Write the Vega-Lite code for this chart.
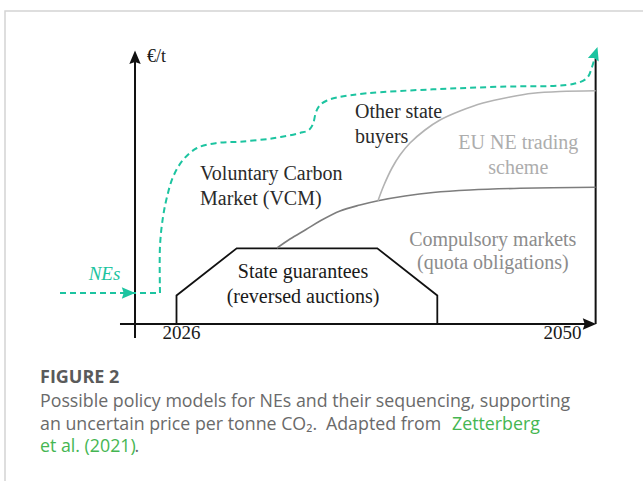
{
  "$schema": "https://vega.github.io/schema/vega-lite/v6.json",
  "width": 643,
  "height": 481,
  "autosize": "none",
  "padding": 0,
  "background": "white",
  "config": {"view": {"stroke": null}},
  "resolve": {"scale": {"color": "independent"}},
  "datasets": {
    "poly": [
      {"g": "frame", "o": 1, "yr": 2016.2, "p": -53},
      {"g": "frame", "o": 2, "yr": 2016.2, "p": 104.33},
      {"g": "frame", "o": 3, "yr": 2053, "p": 104.33},
      {"g": "yaxis", "o": 1, "yr": 2023.629, "p": -4.67},
      {"g": "yaxis", "o": 2, "yr": 2023.629, "p": 88},
      {"g": "xaxis", "o": 1, "yr": 2022.771, "p": 0},
      {"g": "xaxis", "o": 2, "yr": 2049.6, "p": 0},
      {"g": "rline", "o": 1, "yr": 2049.95, "p": 0},
      {"g": "rline", "o": 2, "yr": 2049.95, "p": 88.5},
      {"g": "trap", "o": 1, "yr": 2026, "p": 0},
      {"g": "trap", "o": 2, "yr": 2026, "p": 9.5},
      {"g": "trap", "o": 3, "yr": 2029.44, "p": 25.23},
      {"g": "trap", "o": 4, "yr": 2037.474, "p": 25.23},
      {"g": "trap", "o": 5, "yr": 2040.903, "p": 9.5},
      {"g": "trap", "o": 6, "yr": 2040.903, "p": 0},
      {"g": "nes", "o": 1, "yr": 2019.343, "p": 10.33},
      {"g": "nes", "o": 2, "yr": 2025.057, "p": 10.33}
    ],
    "curves": [
      {"g": "teal", "o": 1, "yr": 2025.057, "p": 10.33},
      {"g": "teal", "o": 2, "yr": 2025.057, "p": 26},
      {"g": "teal", "o": 3, "yr": 2025.229, "p": 35.67},
      {"g": "teal", "o": 4, "yr": 2025.457, "p": 42.33},
      {"g": "teal", "o": 5, "yr": 2025.8, "p": 49},
      {"g": "teal", "o": 6, "yr": 2026.371, "p": 54.67},
      {"g": "teal", "o": 7, "yr": 2027.171, "p": 58.67},
      {"g": "teal", "o": 8, "yr": 2028.314, "p": 60.33},
      {"g": "teal", "o": 9, "yr": 2029.629, "p": 60.77},
      {"g": "teal", "o": 10, "yr": 2031.514, "p": 61.9},
      {"g": "teal", "o": 11, "yr": 2033.057, "p": 63.67},
      {"g": "teal", "o": 12, "yr": 2033.571, "p": 64.67},
      {"g": "teal", "o": 13, "yr": 2033.8, "p": 66.67},
      {"g": "teal", "o": 14, "yr": 2033.971, "p": 70.67},
      {"g": "teal", "o": 15, "yr": 2034.2, "p": 73},
      {"g": "teal", "o": 16, "yr": 2034.6, "p": 74.5},
      {"g": "teal", "o": 17, "yr": 2035.171, "p": 75.5},
      {"g": "teal", "o": 18, "yr": 2036.886, "p": 76.9},
      {"g": "teal", "o": 19, "yr": 2040.657, "p": 78.23},
      {"g": "teal", "o": 20, "yr": 2044.486, "p": 79.1},
      {"g": "teal", "o": 21, "yr": 2048.657, "p": 80},
      {"g": "teal", "o": 22, "yr": 2049.457, "p": 82},
      {"g": "teal", "o": 23, "yr": 2049.743, "p": 85.67},
      {"g": "teal", "o": 24, "yr": 2049.88, "p": 88.3},
      {"g": "c1", "o": 1, "yr": 2031.743, "p": 25.33},
      {"g": "c1", "o": 2, "yr": 2032.486, "p": 28.33},
      {"g": "c1", "o": 3, "yr": 2033.4, "p": 31.5},
      {"g": "c1", "o": 4, "yr": 2034.2, "p": 34.33},
      {"g": "c1", "o": 5, "yr": 2035.343, "p": 37.67},
      {"g": "c1", "o": 6, "yr": 2036.486, "p": 39.67},
      {"g": "c1", "o": 7, "yr": 2037.514, "p": 41.1},
      {"g": "c1", "o": 8, "yr": 2039.057, "p": 42.67},
      {"g": "c1", "o": 9, "yr": 2040.657, "p": 43.83},
      {"g": "c1", "o": 10, "yr": 2042.771, "p": 44.67},
      {"g": "c1", "o": 11, "yr": 2045.629, "p": 45.23},
      {"g": "c1", "o": 12, "yr": 2049.95, "p": 45.57},
      {"g": "c2", "o": 1, "yr": 2037.514, "p": 41.1},
      {"g": "c2", "o": 2, "yr": 2037.857, "p": 46.33},
      {"g": "c2", "o": 3, "yr": 2038.314, "p": 52},
      {"g": "c2", "o": 4, "yr": 2038.771, "p": 56.33},
      {"g": "c2", "o": 5, "yr": 2039.343, "p": 60.33},
      {"g": "c2", "o": 6, "yr": 2040.2, "p": 64.67},
      {"g": "c2", "o": 7, "yr": 2041.057, "p": 68},
      {"g": "c2", "o": 8, "yr": 2042.2, "p": 71},
      {"g": "c2", "o": 9, "yr": 2043.514, "p": 73.67},
      {"g": "c2", "o": 10, "yr": 2045.057, "p": 75.67},
      {"g": "c2", "o": 11, "yr": 2046.371, "p": 76.9},
      {"g": "c2", "o": 12, "yr": 2047.914, "p": 77.5},
      {"g": "c2", "o": 13, "yr": 2049.95, "p": 77.77}
    ],
    "heads": [
      {"g": "black", "yr": 2023.629, "p": 88.93, "a": 0},
      {"g": "black", "yr": 2049.6, "p": 0, "a": 90},
      {"g": "teal", "yr": 2023.257, "p": 10.33, "a": 90},
      {"g": "teal", "yr": 2049.937, "p": 90.23, "a": 18}
    ],
    "labels": [
      {"t": "€/t", "yr": 2024.314, "p": 89, "k": "eur"},
      {"t": "NEs", "yr": 2021.886, "p": 16.67, "k": "nes"},
      {"t": "Other state", "yr": 2036.2, "p": 70.77, "k": "darkL"},
      {"t": "buyers", "yr": 2036.2, "p": 62.23, "k": "darkL"},
      {"t": "Voluntary Carbon", "yr": 2027.343, "p": 50, "k": "darkL"},
      {"t": "Market (VCM)", "yr": 2027.343, "p": 41.57, "k": "darkL"},
      {"t": "EU NE trading", "yr": 2045.531, "p": 60.23, "k": "light"},
      {"t": "scheme", "yr": 2045.531, "p": 51.9, "k": "light"},
      {"t": "Compulsory markets", "yr": 2044.074, "p": 28, "k": "mid"},
      {"t": "(quota obligations)", "yr": 2044.074, "p": 20.23, "k": "mid"},
      {"t": "State guarantees", "yr": 2033.229, "p": 17.43, "k": "darkC"},
      {"t": "(reversed auctions)", "yr": 2033.229, "p": 9.1, "k": "darkC"},
      {"t": "2026", "yr": 2026.286, "p": -3, "k": "year"},
      {"t": "2050", "yr": 2048.057, "p": -3.1, "k": "year"}
    ],
    "caption": [
      {"t": "FIGURE 2", "yr": 2018.2, "p": -18, "k": "head"},
      {"t": "Possible policy models for NEs and their sequencing, supporting", "yr": 2018.2, "p": -26, "k": "body"},
      {"t": "an uncertain price per tonne CO₂.", "yr": 2018.2, "p": -33.67, "k": "body"},
      {"t": "Adapted from", "yr": 2034.543, "p": -33.67, "k": "body"},
      {"t": "Zetterberg", "yr": 2041.743, "p": -33.67, "k": "link"},
      {"t": "et al. (2021)", "yr": 2018.2, "p": -41, "k": "link"},
      {"t": ".", "yr": 2023.6, "p": -41, "k": "body"}
    ]
  },
  "encoding": {
    "x": {"field": "yr", "type": "quantitative", "scale": {"domain": [2016, 2052], "range": [1.5, 631.5], "zero": false, "nice": false}, "axis": null},
    "y": {"field": "p", "type": "quantitative", "scale": {"domain": [0, 100], "range": [324, 24], "zero": false, "nice": false}, "axis": null}
  },
  "layer": [
    {
      "data": {"name": "poly"},
      "transform": [{"filter": "datum.g === 'frame'"}],
      "mark": {"type": "line", "color": "#d4d4d4", "strokeWidth": 1.5},
      "encoding": {"order": {"field": "o", "type": "quantitative"}}
    },
    {
      "data": {"name": "poly"},
      "transform": [{"filter": "datum.g === 'yaxis' || datum.g === 'xaxis' || datum.g === 'rline'"}],
      "mark": {"type": "line", "color": "#111111", "strokeWidth": 2},
      "encoding": {"detail": {"field": "g"}, "order": {"field": "o", "type": "quantitative"}}
    },
    {
      "data": {"name": "poly"},
      "transform": [{"filter": "datum.g === 'trap'"}],
      "mark": {"type": "line", "color": "#111111", "strokeWidth": 1.8, "strokeJoin": "miter"},
      "encoding": {"order": {"field": "o", "type": "quantitative"}}
    },
    {
      "data": {"name": "poly"},
      "transform": [{"filter": "datum.g === 'nes'"}],
      "mark": {"type": "line", "color": "#1cc4a0", "strokeWidth": 2, "strokeDash": [6, 4]},
      "encoding": {"order": {"field": "o", "type": "quantitative"}}
    },
    {
      "data": {"name": "curves"},
      "transform": [{"filter": "datum.g === 'teal'"}],
      "mark": {"type": "line", "color": "#1cc4a0", "strokeWidth": 2, "strokeDash": [6, 4], "interpolate": "catmull-rom"},
      "encoding": {"order": {"field": "o", "type": "quantitative"}}
    },
    {
      "data": {"name": "curves"},
      "transform": [{"filter": "datum.g === 'c1' || datum.g === 'c2'"}],
      "mark": {"type": "line", "strokeWidth": 1.6, "interpolate": "catmull-rom"},
      "encoding": {
        "detail": {"field": "g"},
        "order": {"field": "o", "type": "quantitative"},
        "color": {"field": "g", "type": "nominal", "scale": {"domain": ["c1", "c2"], "range": ["#7d7d7d", "#b3b3b3"]}, "legend": null}
      }
    },
    {
      "data": {"name": "heads"},
      "mark": {"type": "point", "filled": true, "opacity": 1, "strokeWidth": 0, "shape": "M0,-1L0.85,1L0,0.72L-0.85,1Z", "size": 180},
      "encoding": {
        "angle": {"field": "a", "type": "quantitative", "scale": null},
        "color": {"field": "g", "type": "nominal", "scale": {"domain": ["black", "teal"], "range": ["#111111", "#1cc4a0"]}, "legend": null}
      }
    },
    {
      "data": {"name": "labels"},
      "transform": [{"filter": "datum.k === 'darkL'"}],
      "mark": {"type": "text", "align": "left", "baseline": "middle", "font": "Liberation Serif", "fontSize": 20, "color": "#2a2a2a"},
      "encoding": {"text": {"field": "t"}}
    },
    {
      "data": {"name": "labels"},
      "transform": [{"filter": "datum.k === 'darkC'"}],
      "mark": {"type": "text", "align": "center", "baseline": "middle", "font": "Liberation Serif", "fontSize": 20, "color": "#1a1a1a"},
      "encoding": {"text": {"field": "t"}}
    },
    {
      "data": {"name": "labels"},
      "transform": [{"filter": "datum.k === 'light'"}],
      "mark": {"type": "text", "align": "center", "baseline": "middle", "font": "Liberation Serif", "fontSize": 20, "color": "#adadad"},
      "encoding": {"text": {"field": "t"}}
    },
    {
      "data": {"name": "labels"},
      "transform": [{"filter": "datum.k === 'mid'"}],
      "mark": {"type": "text", "align": "center", "baseline": "middle", "font": "Liberation Serif", "fontSize": 20, "color": "#8c8c8c"},
      "encoding": {"text": {"field": "t"}}
    },
    {
      "data": {"name": "labels"},
      "transform": [{"filter": "datum.k === 'year'"}],
      "mark": {"type": "text", "align": "center", "baseline": "middle", "font": "Liberation Serif", "fontSize": 19, "color": "#1a1a1a"},
      "encoding": {"text": {"field": "t"}}
    },
    {
      "data": {"name": "labels"},
      "transform": [{"filter": "datum.k === 'eur'"}],
      "mark": {"type": "text", "align": "left", "baseline": "middle", "font": "Liberation Serif", "fontSize": 18, "color": "#1a1a1a"},
      "encoding": {"text": {"field": "t"}}
    },
    {
      "data": {"name": "labels"},
      "transform": [{"filter": "datum.k === 'nes'"}],
      "mark": {"type": "text", "align": "center", "baseline": "middle", "font": "Liberation Serif", "fontStyle": "italic", "fontSize": 19, "color": "#1cc4a0"},
      "encoding": {"text": {"field": "t"}}
    },
    {
      "data": {"name": "caption"},
      "transform": [{"filter": "datum.k === 'head'"}],
      "mark": {"type": "text", "align": "left", "baseline": "middle", "font": "Open Sans", "fontWeight": "bold", "fontSize": 18, "color": "#5a5a5a"},
      "encoding": {"text": {"field": "t"}}
    },
    {
      "data": {"name": "caption"},
      "transform": [{"filter": "datum.k === 'body' || datum.k === 'link'"}],
      "mark": {"type": "text", "align": "left", "baseline": "middle", "font": "Open Sans", "fontSize": 17.8},
      "encoding": {
        "text": {"field": "t"},
        "color": {"field": "k", "type": "nominal", "scale": {"domain": ["body", "link"], "range": ["#6a6a6a", "#45b652"]}, "legend": null}
      }
    }
  ]
}
